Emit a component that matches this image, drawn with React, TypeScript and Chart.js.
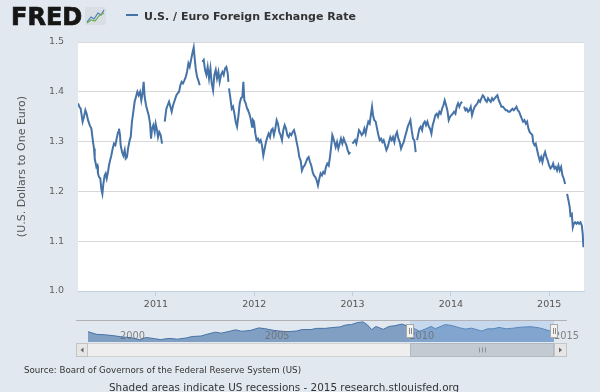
import React, { useEffect, useRef } from "react";
import { Chart, registerables } from "chart.js";

Chart.register(...registerables);

// ---- Main series: U.S. / Euro exchange rate ----
const years: number[] = [
  2010.207, 2010.221, 2010.234, 2010.244, 2010.254, 2010.268, 2010.282, 2010.295, 2010.309, 2010.326,
  2010.343, 2010.36, 2010.37, 2010.377, 2010.394, 2010.404, 2010.41, 2010.421, 2010.434, 2010.444,
  2010.455, 2010.465, 2010.478, 2010.488, 2010.499, 2010.512, 2010.522, 2010.533, 2010.546, 2010.56,
  2010.573, 2010.587, 2010.6, 2010.614, 2010.624, 2010.634, 2010.641, 2010.655, 2010.668, 2010.682,
  2010.692, 2010.705, 2010.716, 2010.733, 2010.743, 2010.756, 2010.77, 2010.783, 2010.797, 2010.811,
  2010.824, 2010.838, 2010.851, 2010.865, 2010.875, 2010.885, 2010.899, 2010.912, 2010.926, 2010.94,
  2010.95, 2010.96, 2010.973, 2010.987, 2010.997, 2011.011, 2011.021, 2011.034, 2011.048, 2011.062,
  2011.079, 2011.089, 2011.106, 2011.119, 2011.133, 2011.147, 2011.16, 2011.174, 2011.191, 2011.208,
  2011.221, 2011.235, 2011.248, 2011.262, 2011.275, 2011.289, 2011.303, 2011.316, 2011.33, 2011.343,
  2011.357, 2011.37, 2011.384, 2011.394, 2011.404, 2011.418, 2011.431, 2011.445, 2011.452, 2011.472,
  2011.486, 2011.499, 2011.513, 2011.526, 2011.54, 2011.554, 2011.567, 2011.581, 2011.594, 2011.608,
  2011.621, 2011.635, 2011.648, 2011.662, 2011.676, 2011.689, 2011.703, 2011.716, 2011.73, 2011.737,
  2011.74, 2011.743, 2011.757, 2011.771, 2011.784, 2011.798, 2011.811, 2011.825, 2011.838, 2011.852,
  2011.865, 2011.879, 2011.889, 2011.899, 2011.913, 2011.927, 2011.936, 2011.95, 2011.963, 2011.977,
  2011.987, 2011.997, 2012.011, 2012.024, 2012.038, 2012.051, 2012.065, 2012.078, 2012.092, 2012.106,
  2012.119, 2012.133, 2012.146, 2012.16, 2012.173, 2012.187, 2012.2, 2012.214, 2012.228, 2012.241,
  2012.255, 2012.268, 2012.282, 2012.295, 2012.309, 2012.323, 2012.336, 2012.35, 2012.363, 2012.377,
  2012.39, 2012.404, 2012.418, 2012.431, 2012.445, 2012.458, 2012.472, 2012.485, 2012.499, 2012.512,
  2012.526, 2012.54, 2012.553, 2012.567, 2012.58, 2012.594, 2012.607, 2012.621, 2012.635, 2012.648,
  2012.662, 2012.675, 2012.689, 2012.702, 2012.716, 2012.729, 2012.743, 2012.757, 2012.77, 2012.784,
  2012.794, 2012.801, 2012.815, 2012.828, 2012.842, 2012.855, 2012.869, 2012.882, 2012.896, 2012.91,
  2012.923, 2012.937, 2012.95, 2012.964, 2012.977, 2012.988, 2012.998, 2013.011, 2013.025, 2013.038,
  2013.052, 2013.065, 2013.079, 2013.093, 2013.106, 2013.12, 2013.133, 2013.147, 2013.16, 2013.174,
  2013.188, 2013.198, 2013.208, 2013.221, 2013.235, 2013.249, 2013.262, 2013.276, 2013.289, 2013.303,
  2013.316, 2013.33, 2013.344, 2013.357, 2013.371, 2013.384, 2013.398, 2013.411, 2013.425, 2013.439,
  2013.452, 2013.466, 2013.479, 2013.493, 2013.506, 2013.52, 2013.533, 2013.547, 2013.561, 2013.574,
  2013.588, 2013.601, 2013.615, 2013.628, 2013.642, 2013.649, 2013.656, 2013.666, 2013.68, 2013.693,
  2013.707, 2013.72, 2013.734, 2013.747, 2013.761, 2013.775, 2013.788, 2013.802, 2013.815, 2013.829,
  2013.842, 2013.856, 2013.869, 2013.883, 2013.897, 2013.91, 2013.924, 2013.937, 2013.951, 2013.964,
  2013.978, 2013.992, 2014.005, 2014.019, 2014.032, 2014.046, 2014.059, 2014.073, 2014.086, 2014.1,
  2014.114, 2014.124, 2014.134, 2014.148, 2014.161, 2014.175, 2014.188, 2014.202, 2014.215, 2014.229,
  2014.242, 2014.256, 2014.27, 2014.283, 2014.297, 2014.31, 2014.324, 2014.337, 2014.351, 2014.365,
  2014.378, 2014.392, 2014.405, 2014.419, 2014.432, 2014.446, 2014.459, 2014.473, 2014.487, 2014.5,
  2014.514, 2014.531, 2014.545, 2014.558, 2014.572, 2014.585, 2014.599, 2014.612, 2014.626, 2014.64,
  2014.653, 2014.667, 2014.68, 2014.694, 2014.707, 2014.721, 2014.734, 2014.748, 2014.762, 2014.775,
  2014.789, 2014.802, 2014.816, 2014.829, 2014.836, 2014.85, 2014.863, 2014.877, 2014.89, 2014.904,
  2014.918, 2014.931, 2014.945, 2014.958, 2014.972, 2014.985, 2014.999, 2015.013, 2015.026, 2015.04,
  2015.053, 2015.067, 2015.08, 2015.094, 2015.107, 2015.121, 2015.135, 2015.148, 2015.162, 2015.172,
  2015.182, 2015.196, 2015.209, 2015.216, 2015.23, 2015.24, 2015.25, 2015.263, 2015.277, 2015.291,
  2015.304, 2015.318, 2015.331, 2015.341, 2015.348,
];

const rates: (number | null)[] = [
  1.377, 1.37, 1.366, 1.353, 1.34, 1.35, 1.363, 1.356, 1.343, 1.333,
  1.326, 1.299, 1.286, 1.266, 1.249, 1.252, 1.236, 1.229, 1.226, 1.205,
  1.195, 1.215, 1.232, 1.236, 1.226, 1.239, 1.252, 1.262, 1.272, 1.286,
  1.296, 1.293, 1.306, 1.319, 1.326, 1.313, 1.293, 1.279, 1.272, 1.283,
  1.266, 1.269, 1.286, 1.303, 1.309, 1.34, 1.36, 1.38, 1.39, 1.4,
  1.393, 1.4, 1.383, 1.4, 1.42, 1.39, 1.373, 1.363, 1.353, 1.336,
  1.306, 1.326, 1.333, 1.319, 1.336, 1.323, 1.309, 1.319, 1.313, 1.296,
  null, 1.34, 1.366, 1.373, 1.38, 1.37, 1.36, 1.373, 1.383, 1.393,
  1.397, 1.4, 1.413, 1.42, 1.417, 1.423, 1.43, 1.44, 1.457, 1.45,
  1.464, 1.477, 1.489, 1.467, 1.447, 1.43, 1.423, 1.413, null, 1.46,
  1.464, 1.444, 1.434, 1.45, 1.427, 1.447, 1.417, 1.403, 1.434, 1.444,
  1.427, 1.44, 1.42, 1.434, 1.44, 1.434, 1.447, 1.45, 1.437, 1.42,
  null, 1.407, 1.387, 1.366, 1.37, 1.356, 1.34, 1.33, 1.35, 1.377,
  1.387, 1.39, 1.42, 1.383, 1.377, 1.366, 1.363, 1.356, 1.346, 1.33,
  1.343, 1.34, 1.316, 1.303, 1.306, 1.299, 1.303, 1.293, 1.272, 1.286,
  1.299, 1.309, 1.316, 1.309, 1.323, 1.326, 1.313, 1.326, 1.343, 1.336,
  1.319, 1.313, 1.303, 1.323, 1.333, 1.326, 1.313, 1.309, 1.316, 1.313,
  1.319, 1.323, 1.313, 1.299, 1.286, 1.269, 1.262, 1.242, 1.249, 1.252,
  1.259, 1.266, 1.269, 1.259, 1.252, 1.239, 1.232, 1.229, 1.222, 1.212,
  1.226, 1.236, 1.232, 1.239, 1.236, 1.249, 1.256, 1.252, 1.269, 1.293,
  1.313, 1.309, 1.299, 1.289, 1.299, 1.286, 1.296, 1.306, 1.296, 1.306,
  1.299, 1.293, 1.283, 1.276, 1.279, null, 1.296, 1.299, 1.303, 1.296,
  1.309, 1.323, 1.319, 1.313, 1.316, 1.326, 1.316, 1.33, 1.34, 1.336,
  1.356, 1.37, 1.353, 1.343, 1.34, 1.326, 1.313, 1.303, 1.306, 1.299,
  1.303, 1.293, 1.283, 1.289, 1.299, 1.309, 1.303, 1.309, 1.299, 1.313,
  1.319, 1.306, 1.299, 1.286, 1.293, 1.299, 1.309, 1.319, 1.33, 1.336,
  1.343, 1.323, 1.306, 1.303, 1.279, null, 1.303, 1.313, 1.326, 1.33,
  1.323, 1.336, 1.34, 1.333, 1.34, 1.33, 1.326, 1.316, 1.333, 1.343,
  1.353, 1.356, 1.35, 1.36, 1.356, 1.366, 1.373, 1.383, 1.373, 1.363,
  1.343, 1.35, 1.353, 1.356, 1.36, 1.356, 1.37, 1.377, 1.37, 1.377,
  1.38, null, 1.37, 1.363, 1.366, 1.36, 1.363, 1.37, 1.353, 1.363,
  1.37, 1.373, 1.377, 1.383, 1.38, 1.387, 1.393, 1.39, 1.383, 1.38,
  1.387, 1.383, 1.38, 1.387, 1.383, 1.387, 1.39, 1.393, 1.383, 1.377,
  1.37, 1.37, 1.366, 1.363, 1.363, 1.36, 1.36, 1.363, 1.366, 1.363,
  1.366, 1.37, 1.363, 1.36, 1.353, 1.346, 1.34, 1.343, 1.336, 1.34,
  1.326, 1.319, 1.316, 1.313, 1.299, 1.293, 1.296, 1.283, 1.272, 1.262,
  1.269, 1.259, 1.272, 1.279, 1.269, 1.262, 1.252, 1.246, 1.249, 1.256,
  1.246, 1.249, 1.242, 1.252, 1.242, 1.249, 1.232, 1.226, 1.215, null,
  1.195, 1.182, 1.168, 1.152, 1.155, 1.128, 1.135, 1.138, 1.135, 1.138,
  1.135, 1.138, 1.132, 1.115, 1.088,
];

const yTicks = [1.0, 1.1, 1.2, 1.3, 1.4, 1.5];
const xTickYears = [2011, 2012, 2013, 2014, 2015];
const xMin = 2010.207;
const xMax = 2015.354;

// ---- Navigator (full history) ----
const navYears: number[] = [
  1999.0, 1999.3, 1999.6, 1999.9, 2000.2, 2000.5, 2000.8, 2001.0, 2001.3, 2001.5,
  2001.8, 2002.1, 2002.4, 2002.6, 2002.9, 2003.1, 2003.4, 2003.6, 2003.9, 2004.1,
  2004.3, 2004.6, 2004.9, 2005.1, 2005.4, 2005.6, 2005.9, 2006.2, 2006.4, 2006.7,
  2006.9, 2007.2, 2007.4, 2007.7, 2007.9, 2008.1, 2008.3, 2008.5, 2008.65, 2008.8,
  2008.95, 2009.2, 2009.4, 2009.6, 2009.85, 2010.0, 2010.2, 2010.45, 2010.65, 2010.85,
  2011.0, 2011.35, 2011.6, 2011.85, 2012.05, 2012.25, 2012.6, 2012.8, 2013.0, 2013.2,
  2013.45, 2013.7, 2013.95, 2014.3, 2014.6, 2014.85, 2014.97, 2015.1,
];
const navRates: number[] = [
  1.18, 1.07, 1.05, 1.01, 0.96, 0.93, 0.84, 0.94, 0.89, 0.85,
  0.9, 0.87, 0.92, 0.98, 1.0, 1.07, 1.16, 1.12, 1.2, 1.26,
  1.2, 1.23, 1.34, 1.31, 1.24, 1.21, 1.18, 1.21, 1.27, 1.27,
  1.32, 1.32, 1.35, 1.38, 1.46, 1.48, 1.56, 1.59, 1.47, 1.27,
  1.4, 1.28, 1.4, 1.43, 1.5, 1.43, 1.36, 1.2, 1.29, 1.4,
  1.31, 1.48, 1.43, 1.34, 1.29, 1.33, 1.21, 1.3, 1.3, 1.36,
  1.3, 1.33, 1.37, 1.39, 1.34, 1.25, 1.21, 1.09,
];
const navTickYears = [2000, 2005, 2010, 2015];
const navRangeStart = 2010.13;
const navRangeEnd = 2015.1;

const BG = "#e2e8ef";
const FONT = '"DejaVu Sans", Verdana, sans-serif';
const LINE = "#4572a7";

const plotBg = {
  id: "plotBg",
  beforeDraw(chart: any) {
    const { ctx, chartArea: a } = chart;
    ctx.save();
    ctx.fillStyle = "#ffffff";
    ctx.fillRect(a.left, a.top, a.right - a.left, a.bottom - a.top);
    ctx.restore();
  },
};

const navDecor = {
  id: "navDecor",
  afterDatasetsDraw(chart: any) {
    const { ctx, chartArea: a, scales } = chart;
    const xs = scales.x;
    const x0 = Math.round(xs.getPixelForValue(navRangeStart));
    const x1 = Math.round(xs.getPixelForValue(navRangeEnd));
    const frameL = a.left - 12;
    const frameR = a.right + 13;
    ctx.save();
    // selected-zone mask
    ctx.fillStyle = "rgba(128,179,236,0.3)";
    ctx.fillRect(x0, a.top, x1 - x0, a.bottom - a.top);
    // labels
    ctx.font = `9.8px ${FONT}`;
    ctx.fillStyle = "rgba(110,110,110,0.85)";
    ctx.textAlign = "left";
    ctx.textBaseline = "alphabetic";
    navTickYears.forEach((yr) => {
      ctx.fillText(String(yr), xs.getPixelForValue(yr) + 3, a.bottom - 3);
    });
    // outline
    ctx.strokeStyle = "#b2b1b6";
    ctx.lineWidth = 1;
    ctx.beginPath();
    ctx.moveTo(frameL, a.top + 0.5);
    ctx.lineTo(frameR, a.top + 0.5);
    ctx.stroke();
    // scrollbar
    const sTop = a.bottom + 1.5;
    const sH = 13;
    ctx.fillStyle = "#eeeeee";
    ctx.fillRect(frameL, sTop, frameR - frameL, sH);
    ctx.strokeStyle = "#d2d2d2";
    ctx.strokeRect(frameL + 0.5, sTop, frameR - frameL - 1, sH);
    // thumb
    ctx.fillStyle = "#c3cad2";
    ctx.fillRect(x0, sTop, x1 - x0, sH);
    ctx.strokeStyle = "#b0b8c2";
    ctx.strokeRect(x0 + 0.5, sTop, x1 - x0 - 1, sH);
    const mid = Math.round((x0 + x1) / 2);
    ctx.strokeStyle = "#8a929c";
    [-3, 0, 3].forEach((d) => {
      ctx.beginPath();
      ctx.moveTo(mid + d + 0.5, sTop + 4);
      ctx.lineTo(mid + d + 0.5, sTop + sH - 4);
      ctx.stroke();
    });
    // buttons
    const drawBtn = (bx: number, bw: number, dir: number) => {
      ctx.fillStyle = "#e6e6e6";
      ctx.fillRect(bx, sTop, bw, sH);
      ctx.strokeStyle = "#c4c4c4";
      ctx.strokeRect(bx + 0.5, sTop, bw - 1, sH);
      const cx = bx + bw / 2;
      const cy = sTop + sH / 2;
      ctx.fillStyle = "#666";
      ctx.beginPath();
      ctx.moveTo(cx - 1.5 * dir, cy);
      ctx.lineTo(cx + 1.5 * dir, cy - 2.5);
      ctx.lineTo(cx + 1.5 * dir, cy + 2.5);
      ctx.closePath();
      ctx.fill();
    };
    drawBtn(frameL, a.left - frameL, 1);
    drawBtn(a.right, frameR - a.right, -1);
    // handles
    [x0, x1].forEach((hx) => {
      ctx.fillStyle = "#f2f2f2";
      ctx.fillRect(hx - 4, a.top + 4, 8, 14);
      ctx.strokeStyle = "#a8a8a8";
      ctx.strokeRect(hx - 3.5, a.top + 4.5, 7, 13);
      ctx.strokeStyle = "#888";
      [-1, 1].forEach((d) => {
        ctx.beginPath();
        ctx.moveTo(hx + d + 0.5, a.top + 8);
        ctx.lineTo(hx + d + 0.5, a.top + 14);
        ctx.stroke();
      });
    });
    ctx.restore();
  },
};

export default function App() {
  const mainRef = useRef<HTMLCanvasElement | null>(null);
  const navRef = useRef<HTMLCanvasElement | null>(null);

  useEffect(() => {
    const main = new Chart(mainRef.current as HTMLCanvasElement, {
      type: "line",
      data: {
        datasets: [
          {
            data: years.map((x, i) => ({ x, y: rates[i] })) as any,
            borderColor: LINE,
            borderWidth: 2,
            pointRadius: 0,
            spanGaps: false,
            tension: 0,
            fill: false,
          },
        ],
      },
      options: {
        animation: false,
        responsive: false,
        events: [],
        layout: { padding: { left: 0, right: 16, top: 42, bottom: 0 } },
        plugins: { legend: { display: false }, tooltip: { enabled: false } },
        scales: {
          x: {
            type: "linear",
            min: xMin,
            max: xMax,
            afterBuildTicks: (s: any) => {
              s.ticks = xTickYears.map((v) => ({ value: v }));
            },
            afterFit: (s: any) => {
              s.height = 29;
            },
            grid: {
              display: true,
              drawOnChartArea: false,
              drawTicks: true,
              tickLength: 5,
              color: "#c0d0e0",
            },
            border: { display: true, color: "#c0d0e0" },
            ticks: {
              padding: 3,
              color: "#555555",
              maxRotation: 0,
              autoSkip: false,
              font: { family: FONT, size: 9.5 },
              callback: (v: any) => String(v),
            },
          },
          y: {
            min: 1.0,
            max: 1.5,
            afterBuildTicks: (s: any) => {
              s.ticks = yTicks.map((v) => ({ value: v }));
            },
            afterFit: (s: any) => {
              s.width = 78;
            },
            grid: { color: "#d8d8d8", drawTicks: false },
            border: { display: false },
            ticks: {
              padding: 14,
              color: "#606060",
              font: { family: FONT, size: 9.5 },
              callback: (v: any) => Number(v).toFixed(1),
            },
            title: {
              display: true,
              text: "(U.S. Dollars to One Euro)",
              color: "#555555",
              font: { family: FONT, size: 11 },
              padding: { top: 16, bottom: 0 },
            },
          },
        },
      } as any,
      plugins: [plotBg],
    });

    const nav = new Chart(navRef.current as HTMLCanvasElement, {
      type: "line",
      data: {
        datasets: [
          {
            data: navYears.map((x, i) => ({ x, y: navRates[i] })) as any,
            borderColor: LINE,
            borderWidth: 1,
            backgroundColor: "rgba(69,114,167,0.62)",
            fill: "start",
            pointRadius: 0,
            tension: 0,
          },
        ],
      },
      options: {
        animation: false,
        responsive: false,
        events: [],
        layout: { padding: { left: 88, right: 46, top: 20, bottom: 50 } },
        plugins: { legend: { display: false }, tooltip: { enabled: false } },
        scales: {
          x: { type: "linear", display: false, min: navYears[0], max: navYears[navYears.length - 1] },
          y: { display: false, min: 0.75, max: 1.67 },
        },
      } as any,
      plugins: [navDecor],
    });

    return () => {
      main.destroy();
      nav.destroy();
    };
  }, []);

  return (
    <div
      style={{
        position: "absolute",
        left: 0,
        top: 0,
        width: 600,
        height: 392,
        background: BG,
        overflow: "hidden",
        fontFamily: FONT,
      }}
    >
      <canvas ref={mainRef} width={600} height={320} style={{ position: "absolute", left: 0, top: 0 }} />
      <canvas ref={navRef} width={600} height={92} style={{ position: "absolute", left: 0, top: 300 }} />
      <div
        style={{
          position: "absolute",
          left: 11,
          top: 5,
          fontSize: 24,
          lineHeight: "24px",
          fontWeight: 700,
          color: "#161616",
          WebkitTextStroke: "0.7px #161616",
          whiteSpace: "nowrap",
        }}
      >
        FRED
      </div>
      <svg width={21} height={18} style={{ position: "absolute", left: 85, top: 7 }}>
        <rect x={0} y={0} width={21} height={18} rx={2} fill="#d9dee4" />
        <polyline points="2,15 6,10 9,12 13,6 16,8 19,3" fill="none" stroke="#4a7ab5" strokeWidth={1.2} />
        <polyline points="2,16 6,13 10,14 14,9 19,6" fill="none" stroke="#6cb04a" strokeWidth={1.2} />
      </svg>
      <div style={{ position: "absolute", left: 126, top: 14, width: 12, height: 2, background: LINE }} />
      <div
        style={{
          position: "absolute",
          left: 144,
          top: 10.7,
          fontSize: 11,
          lineHeight: "11px",
          fontWeight: 700,
          color: "#333333",
          whiteSpace: "nowrap",
        }}
      >
        U.S. / Euro Foreign Exchange Rate
      </div>
      <div
        style={{
          position: "absolute",
          left: 24,
          top: 365.6,
          fontSize: 8.7,
          lineHeight: "8.7px",
          color: "#333333",
          whiteSpace: "nowrap",
        }}
      >
        Source: Board of Governors of the Federal Reserve System (US)
      </div>
      <div
        style={{
          position: "absolute",
          left: 109,
          top: 382.2,
          fontSize: 10.4,
          lineHeight: "10.4px",
          color: "#333333",
          whiteSpace: "nowrap",
        }}
      >
        Shaded areas indicate US recessions - 2015 research.stlouisfed.org
      </div>
    </div>
  );
}
